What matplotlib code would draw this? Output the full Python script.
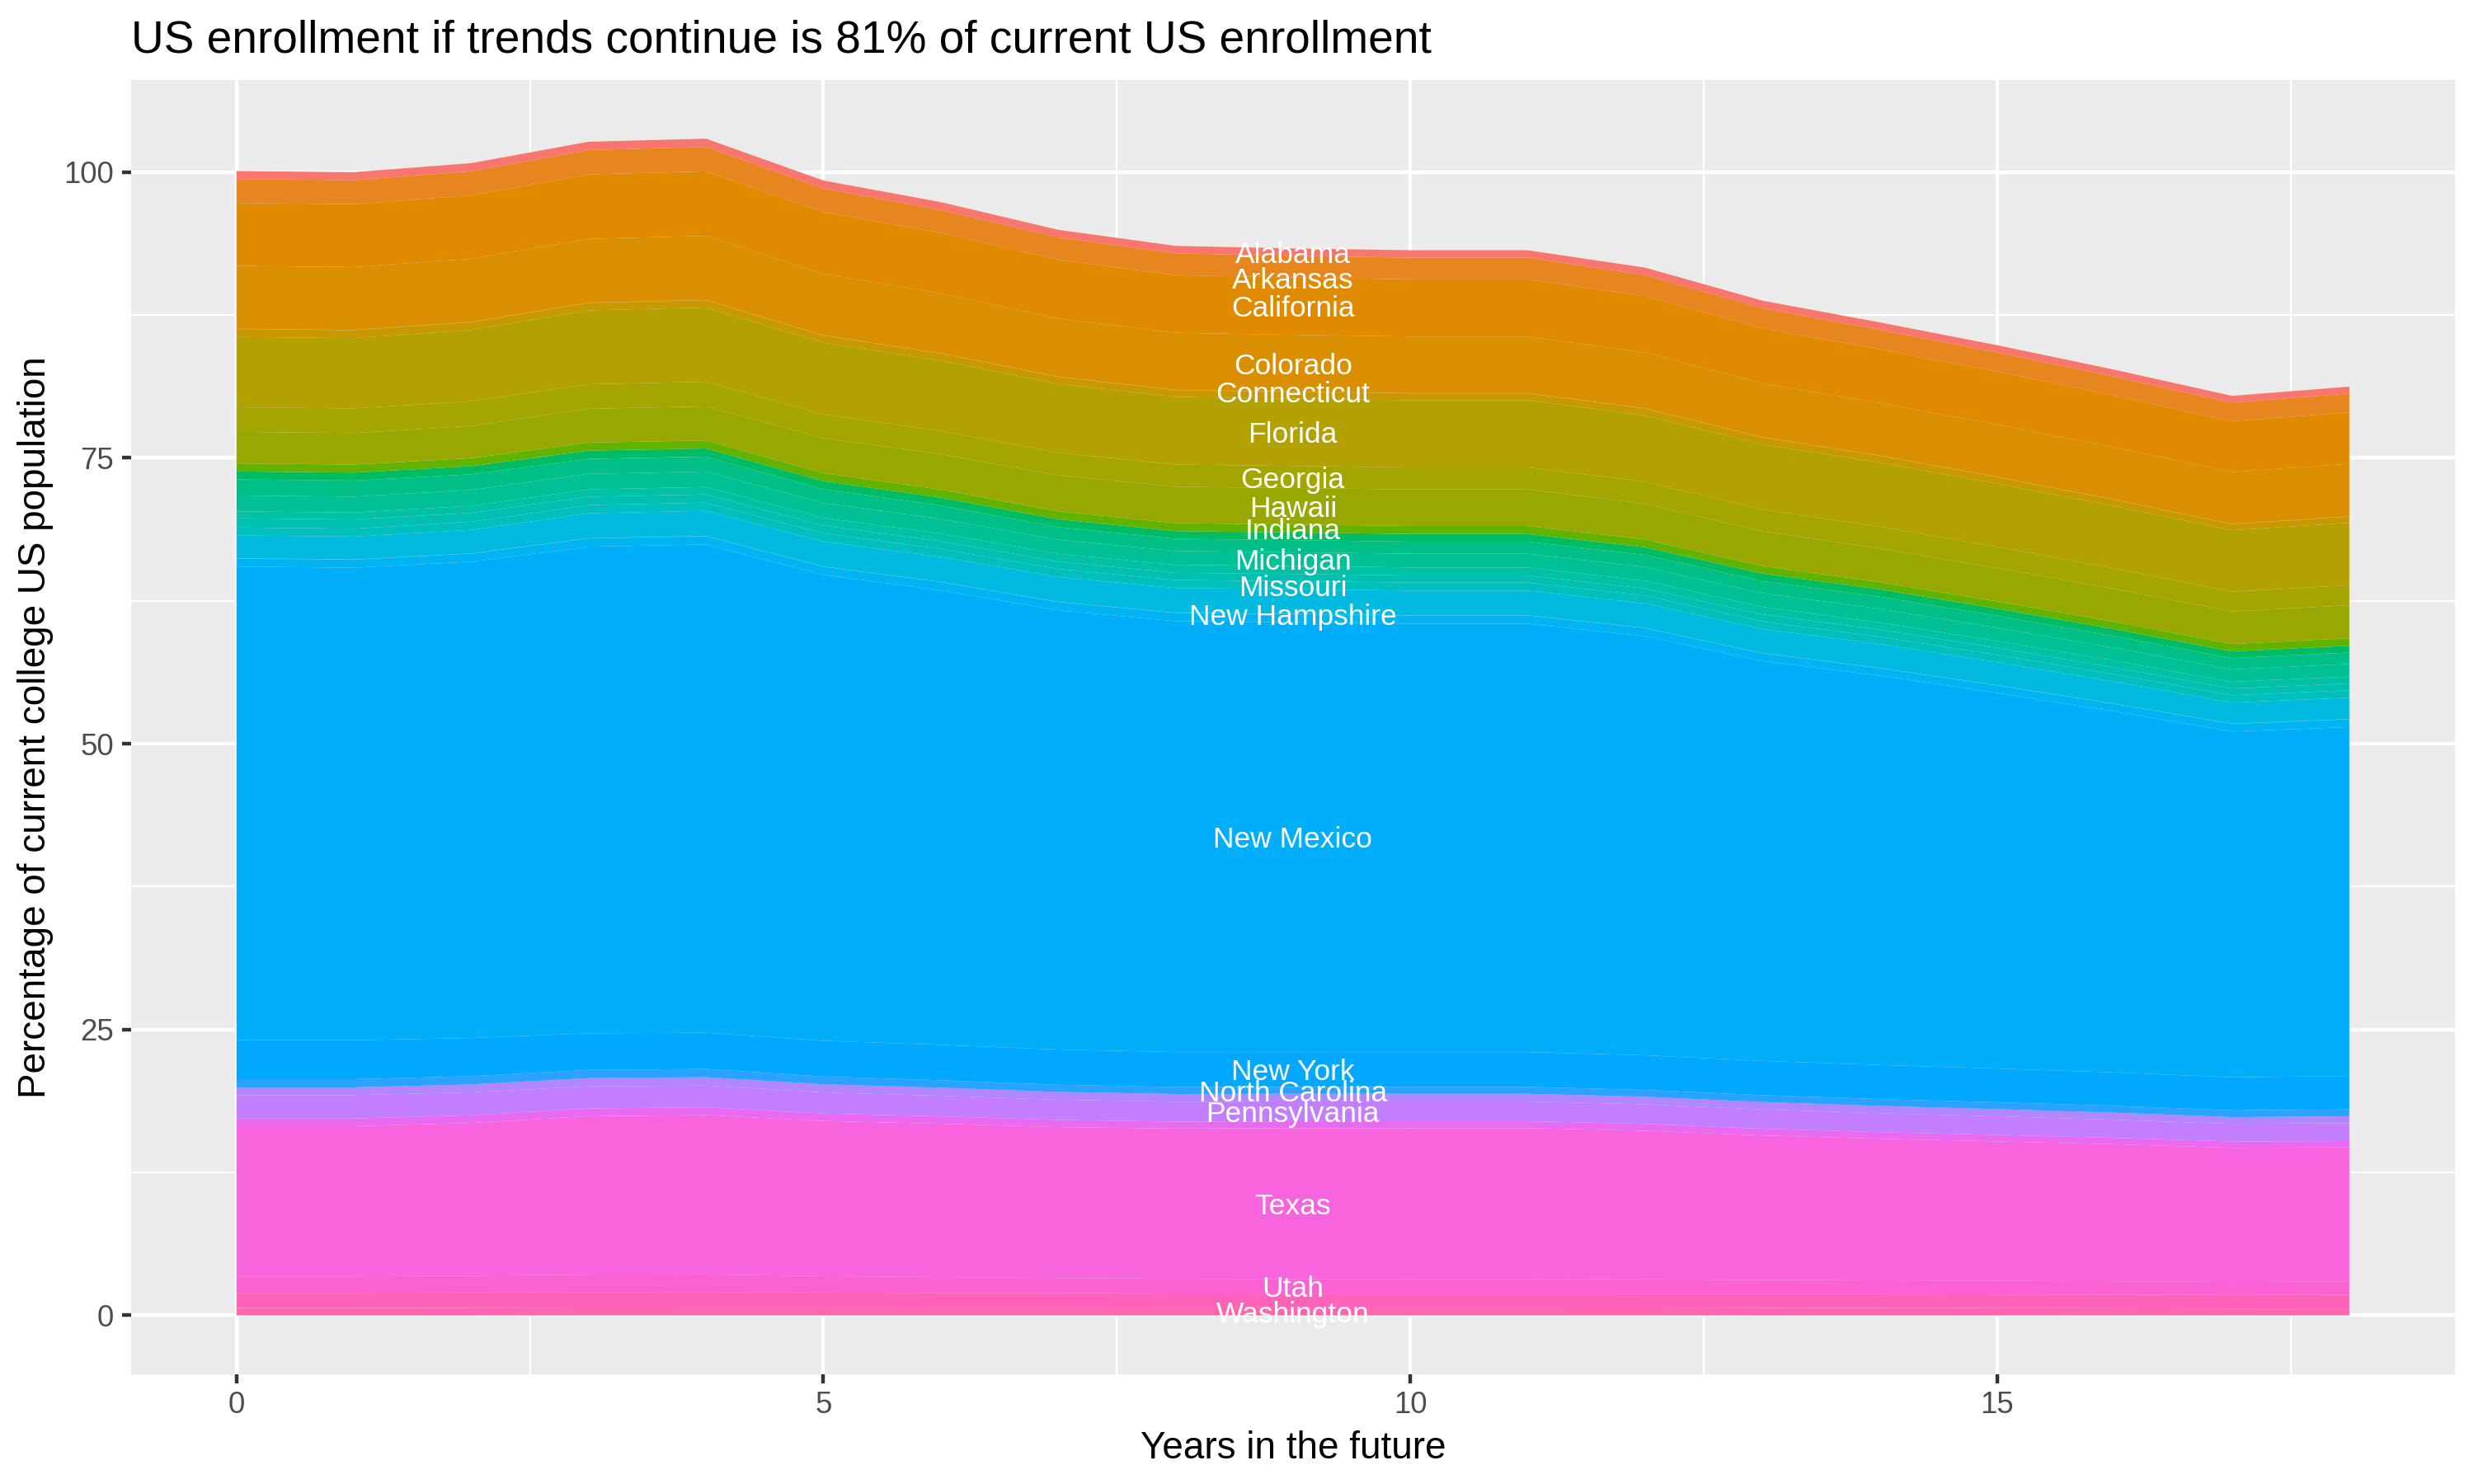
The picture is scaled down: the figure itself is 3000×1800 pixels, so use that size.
import numpy as np
import matplotlib.pyplot as plt

plt.rcParams['font.family'] = ['Liberation Sans', 'DejaVu Sans']

years = list(range(19))

# every state, in factor order (used only for the colour scale)
all_states = [
    "Alabama", "Alaska", "Arizona", "Arkansas", "California", "Colorado",
    "Connecticut", "Delaware", "District of Columbia", "Florida", "Georgia",
    "Hawaii", "Idaho", "Illinois", "Indiana", "Iowa", "Kansas", "Kentucky",
    "Louisiana", "Maine", "Maryland", "Massachusetts", "Michigan", "Minnesota",
    "Mississippi", "Missouri", "Montana", "Nebraska", "Nevada", "New Hampshire",
    "New Jersey", "New Mexico", "New York", "North Carolina", "North Dakota",
    "Ohio", "Oklahoma", "Oregon", "Pennsylvania", "Rhode Island",
    "South Carolina", "South Dakota", "Tennessee", "Texas", "Utah", "Vermont",
    "Virginia", "Washington", "West Virginia", "Wisconsin", "Wyoming",
]

# percentage of current college population, years 0..18
alabama = [0.70, 0.70, 0.71, 0.72, 0.72, 0.70, 0.68, 0.67, 0.65, 0.65, 0.65, 0.65, 0.65, 0.65, 0.65, 0.63, 0.61, 0.59, 0.60]
arkansas = [2.10, 2.10, 2.11, 2.14, 2.14, 2.05, 2.01, 1.95, 1.91, 1.90, 1.90, 1.90, 1.85, 1.77, 1.70, 1.68, 1.66, 1.63, 1.65]
california = [5.50, 5.50, 5.54, 5.63, 5.65, 5.42, 5.29, 5.14, 5.04, 5.01, 5.00, 5.00, 4.93, 4.81, 4.70, 4.62, 4.53, 4.44, 4.50]
colorado = [5.50, 5.50, 5.53, 5.59, 5.60, 5.37, 5.24, 5.09, 4.99, 4.96, 4.95, 4.95, 4.87, 4.72, 4.60, 4.58, 4.56, 4.54, 4.60]
connecticut = [0.02, 0.02, 0.02, 0.02, 0.02, 0.02, 0.02, 0.02, 0.02, 0.02, 0.02, 0.02, 0.02, 0.02, 0.02, 0.02, 0.02, 0.02, 0.02]
delaware = [0.70, 0.70, 0.68, 0.65, 0.64, 0.63, 0.62, 0.61, 0.60, 0.60, 0.60, 0.60, 0.60, 0.60, 0.60, 0.58, 0.55, 0.53, 0.54]
florida = [6.15, 6.15, 6.25, 6.46, 6.50, 6.28, 6.16, 6.02, 5.92, 5.89, 5.88, 5.88, 5.81, 5.70, 5.60, 5.53, 5.46, 5.38, 5.46]
georgia = [2.15, 2.15, 2.15, 2.15, 2.15, 2.07, 2.03, 1.98, 1.94, 1.93, 1.93, 1.93, 1.92, 1.91, 1.90, 1.85, 1.79, 1.73, 1.75]
hawaii = [2.76, 2.76, 2.82, 2.96, 2.98, 3.06, 3.10, 3.14, 3.18, 3.19, 3.19, 3.19, 3.13, 3.04, 2.96, 2.92, 2.88, 2.84, 2.88]
indiana = [0.70, 0.70, 0.70, 0.70, 0.70, 0.70, 0.70, 0.70, 0.70, 0.70, 0.70, 0.70, 0.68, 0.65, 0.62, 0.63, 0.64, 0.65, 0.66]
maine = [0.70, 0.70, 0.71, 0.72, 0.72, 0.70, 0.69, 0.68, 0.67, 0.67, 0.67, 0.67, 0.67, 0.66, 0.65, 0.63, 0.61, 0.59, 0.60]
massachusetts = [1.40, 1.40, 1.37, 1.31, 1.30, 1.21, 1.17, 1.11, 1.07, 1.06, 1.06, 1.06, 1.06, 1.06, 1.06, 1.04, 1.02, 0.99, 1.00]
michigan = [1.40, 1.40, 1.39, 1.36, 1.35, 1.30, 1.27, 1.23, 1.21, 1.20, 1.20, 1.20, 1.20, 1.20, 1.20, 1.16, 1.12, 1.08, 1.10]
minnesota = [0.60, 0.60, 0.61, 0.64, 0.65, 0.67, 0.68, 0.69, 0.70, 0.70, 0.70, 0.70, 0.68, 0.65, 0.62, 0.61, 0.60, 0.59, 0.60]
mississippi = [0.80, 0.80, 0.78, 0.73, 0.72, 0.68, 0.67, 0.64, 0.63, 0.62, 0.62, 0.62, 0.62, 0.62, 0.62, 0.61, 0.60, 0.59, 0.60]
missouri = [0.70, 0.70, 0.71, 0.72, 0.72, 0.71, 0.71, 0.70, 0.70, 0.70, 0.70, 0.70, 0.69, 0.66, 0.64, 0.64, 0.64, 0.64, 0.65]
nevada = [2.00, 2.00, 2.06, 2.18, 2.20, 2.19, 2.18, 2.17, 2.16, 2.16, 2.16, 2.16, 2.14, 2.11, 2.09, 2.01, 1.93, 1.84, 1.87]
new_hampshire = [0.02, 0.02, 0.02, 0.02, 0.02, 0.02, 0.02, 0.02, 0.02, 0.02, 0.02, 0.02, 0.02, 0.02, 0.02, 0.02, 0.02, 0.02, 0.02]
new_jersey = [0.70, 0.70, 0.71, 0.72, 0.72, 0.72, 0.72, 0.72, 0.72, 0.72, 0.72, 0.72, 0.70, 0.67, 0.65, 0.66, 0.66, 0.67, 0.68]
new_mexico = [41.43, 41.33, 41.66, 42.57, 42.71, 40.75, 39.76, 38.43, 37.69, 37.60, 37.47, 37.47, 36.66, 34.98, 34.06, 32.85, 31.57, 30.25, 30.52]
new_york = [3.41, 3.41, 3.34, 3.20, 3.17, 3.13, 3.10, 3.08, 3.06, 3.05, 3.05, 3.05, 3.03, 3.00, 2.98, 2.95, 2.92, 2.89, 2.93]
north_carolina = [0.72, 0.72, 0.72, 0.72, 0.72, 0.68, 0.65, 0.63, 0.61, 0.60, 0.60, 0.60, 0.60, 0.60, 0.60, 0.60, 0.60, 0.59, 0.60]
oregon = [0.67, 0.67, 0.69, 0.72, 0.73, 0.71, 0.70, 0.68, 0.67, 0.67, 0.67, 0.67, 0.66, 0.65, 0.64, 0.63, 0.62, 0.59, 0.60]
pennsylvania = [2.05, 2.05, 2.01, 1.93, 1.91, 1.85, 1.81, 1.77, 1.74, 1.73, 1.73, 1.73, 1.71, 1.68, 1.65, 1.62, 1.58, 1.54, 1.56]
south_dakota = [0.67, 0.67, 0.67, 0.68, 0.68, 0.65, 0.64, 0.62, 0.61, 0.60, 0.60, 0.60, 0.60, 0.59, 0.58, 0.57, 0.56, 0.55, 0.56]
texas = [13.14, 13.14, 13.36, 13.86, 13.93, 13.57, 13.41, 13.21, 13.14, 13.20, 13.21, 13.21, 13.00, 12.64, 12.39, 12.20, 11.99, 11.75, 11.74]
utah = [1.44, 1.44, 1.47, 1.53, 1.54, 1.44, 1.39, 1.33, 1.29, 1.28, 1.27, 1.27, 1.26, 1.23, 1.21, 1.19, 1.17, 1.14, 1.15]
virginia = [1.33, 1.33, 1.34, 1.35, 1.35, 1.30, 1.27, 1.24, 1.22, 1.21, 1.21, 1.21, 1.21, 1.21, 1.21, 1.20, 1.19, 1.18, 1.20]
washington = [0.64, 0.64, 0.66, 0.68, 0.69, 0.69, 0.69, 0.69, 0.69, 0.69, 0.69, 0.69, 0.68, 0.66, 0.64, 0.63, 0.62, 0.59, 0.60]

series = [
    ("Alabama", alabama), ("Arkansas", arkansas), ("California", california),
    ("Colorado", colorado), ("Connecticut", connecticut), ("Delaware", delaware),
    ("Florida", florida), ("Georgia", georgia), ("Hawaii", hawaii),
    ("Indiana", indiana), ("Maine", maine), ("Massachusetts", massachusetts),
    ("Michigan", michigan), ("Minnesota", minnesota), ("Mississippi", mississippi),
    ("Missouri", missouri), ("Nevada", nevada), ("New Hampshire", new_hampshire),
    ("New Jersey", new_jersey), ("New Mexico", new_mexico), ("New York", new_york),
    ("North Carolina", north_carolina), ("Oregon", oregon),
    ("Pennsylvania", pennsylvania), ("South Dakota", south_dakota),
    ("Texas", texas), ("Utah", utah), ("Virginia", virginia),
    ("Washington", washington),
]

labelled = [
    "Alabama", "Arkansas", "California", "Colorado", "Connecticut", "Florida",
    "Georgia", "Hawaii", "Indiana", "Michigan", "Missouri", "New Hampshire",
    "New Mexico", "New York", "North Carolina", "Pennsylvania", "Texas", "Utah",
    "Washington",
]
label_year = 9
title = "US enrollment if trends continue is 81% of current US enrollment"


def hcl_color(h, c=100.0, l=65.0):
    # polar LUV -> sRGB, same as R's hcl()
    hr = np.deg2rad(h)
    u, v = c * np.cos(hr), c * np.sin(hr)
    Y = 100.0 * ((l + 16) / 116) ** 3
    up = u / (13 * l) + 0.1978398
    vp = v / (13 * l) + 0.4683363
    X = 9.0 * Y * up / (4 * vp)
    Z = -X / 3 - 5 * Y + 3 * Y / vp
    m = np.array([[3.240479, -1.537150, -0.498535],
                  [-0.969256, 1.875992, 0.041556],
                  [0.055648, -0.204043, 1.057311]])
    rgb = m @ np.array([X, Y, Z]) / 100
    rgb = np.where(rgb > 0.00304, 1.055 * np.abs(rgb) ** (1 / 2.4) - 0.055, 12.92 * rgb)
    return tuple(np.clip(rgb, 0, 1))


n = len(all_states)
colors = {s: hcl_color(15 + 360 * i / n) for i, s in enumerate(all_states)}

fig = plt.figure(figsize=(10, 6), dpi=300)
ax = fig.add_axes([0.0529, 0.074, 0.9394, 0.872])
ax.set_facecolor("#EBEBEB")

x = np.array(years)
# stack from the bottom: last state sits at the bottom
base = np.zeros(len(x))
bands = {}
for name, vals in reversed(series):
    top = base + np.array(vals)
    ax.fill_between(x, base, top, facecolor=colors[name], edgecolor="none",
                    linewidth=0, antialiased=True, zorder=2)
    bands[name] = (base.copy(), top.copy())
    base = top

for name in labelled:
    lo, hi = bands[name]
    y = (lo[label_year] + hi[label_year]) / 2
    if name == "Arkansas":
        y -= 1.0  # sits a little lower in the original, clear of Alabama
    ax.text(label_year, y, name, color="white", fontsize=8.5, ha="center",
            va="center_baseline", zorder=3)

ax.set_xlim(-0.9, 18.9)
ax.set_ylim(-5.145, 108.05)
ax.set_xticks([0, 5, 10, 15])
ax.set_yticks([0, 25, 50, 75, 100])
ax.set_xticks([2.5, 7.5, 12.5, 17.5], minor=True)
ax.set_yticks([12.5, 37.5, 62.5, 87.5], minor=True)
ax.grid(which="major", color="white", linewidth=1.07, zorder=0)
ax.grid(which="minor", color="white", linewidth=0.53, zorder=0)
ax.set_axisbelow(True)
for sp in ax.spines.values():
    sp.set_visible(False)
ax.tick_params(which="major", length=2.75, width=1.07, color="#333333",
               labelsize=8.8, labelcolor="#4D4D4D", pad=2.2)
ax.tick_params(which="minor", length=0)

ax.set_xlabel("Years in the future", fontsize=11, labelpad=3)
ax.set_ylabel("Percentage of current college US population", fontsize=11, labelpad=3)
fig.text(0.0529, 0.965, title, fontsize=13.2, ha="left", va="baseline")

fig.savefig("out.png", dpi=300)
